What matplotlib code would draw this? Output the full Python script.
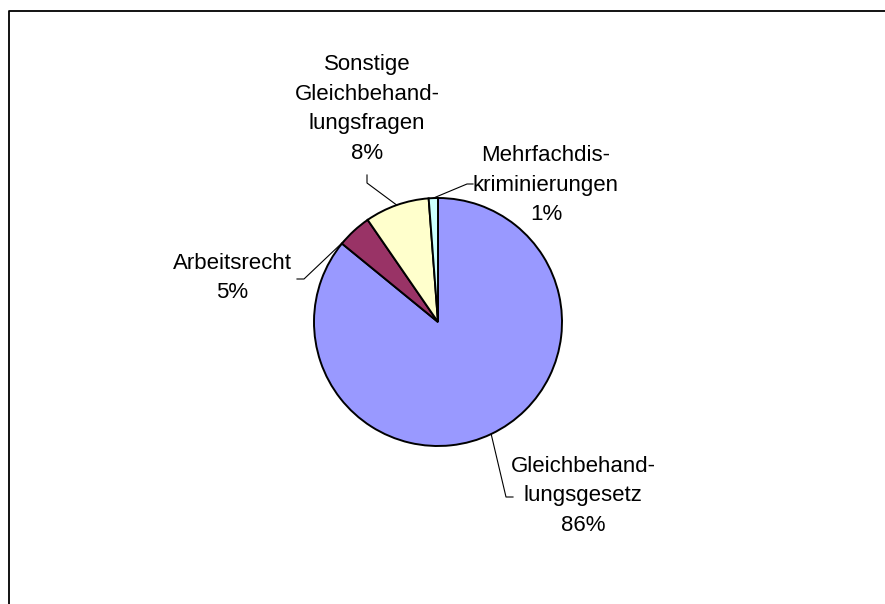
import numpy as np
import matplotlib
matplotlib.use("Agg")
import matplotlib.pyplot as plt
from matplotlib.lines import Line2D

categories = ["Gleichbehand-\nlungsgesetz", "Arbeitsrecht",
              "Sonstige\nGleichbehand-\nlungsfragen", "Mehrfachdis-\nkriminierungen"]
values = [85.9, 4.5, 8.4, 1.2]
pct_labels = ["86%", "5%", "8%", "1%"]
colors = ["#9999FF", "#993366", "#FFFFCC", "#CCFFFF"]

W, H = 885, 604
fig = plt.figure(figsize=(W / 100, H / 100), dpi=100)
ax = fig.add_axes([0, 0, 1, 1])
ax.set_xlim(0, W)
ax.set_ylim(0, H)
ax.set_aspect("equal")
ax.axis("off")

cx, cy, r = 438, H - 322, 124
wedges, _ = ax.pie(values, colors=colors, startangle=90, counterclock=False,
                   center=(cx, cy), radius=r, frame=True,
                   wedgeprops=dict(edgecolor="black", linewidth=1.4))
ax.set_xlim(0, W)
ax.set_ylim(0, H)
ax.axis("off")

# label layout: text centre (px, top-origin), anchor fraction along wedge, leader path (px)
label_pos = [(583, 496), (232, 278), (367, 109), (546, 185)]
anchor_frac = [0.5, 0.9, 0.5, 0.5]
elbow = [[(506, 497), (513, 497)], [(304, 279), (297, 279)],
         [(367, 183), (367, 175)], [(467, 184), (473, 184)]]

plt.rcParams["font.family"] = ["Liberation Sans", "DejaVu Sans"]
for w, lab, pct, pos, fr, el in zip(wedges, categories, pct_labels, label_pos, anchor_frac, elbow):
    t1, t2 = w.theta1, w.theta2
    ang = np.deg2rad(t1 + (t2 - t1) * fr)
    ax_x = cx + r * np.cos(ang)
    ax_y = cy + r * np.sin(ang)
    xs = [ax_x] + [p[0] for p in el]
    ys = [ax_y] + [H - p[1] for p in el]
    ax.add_line(Line2D(xs, ys, color="black", linewidth=0.8))
    ax.text(pos[0], H - pos[1], lab + "\n" + pct, ha="center", va="center",
            fontsize=16, family=["Liberation Sans", "DejaVu Sans"], linespacing=1.55)

# outer frame (partially visible)
fig.add_artist(Line2D([8.5 / W, 8.5 / W, 1.0], [0.0, 1 - 11 / H, 1 - 11 / H],
                      transform=fig.transFigure, color="black", linewidth=1.3))

fig.savefig("out.png", dpi=100)
